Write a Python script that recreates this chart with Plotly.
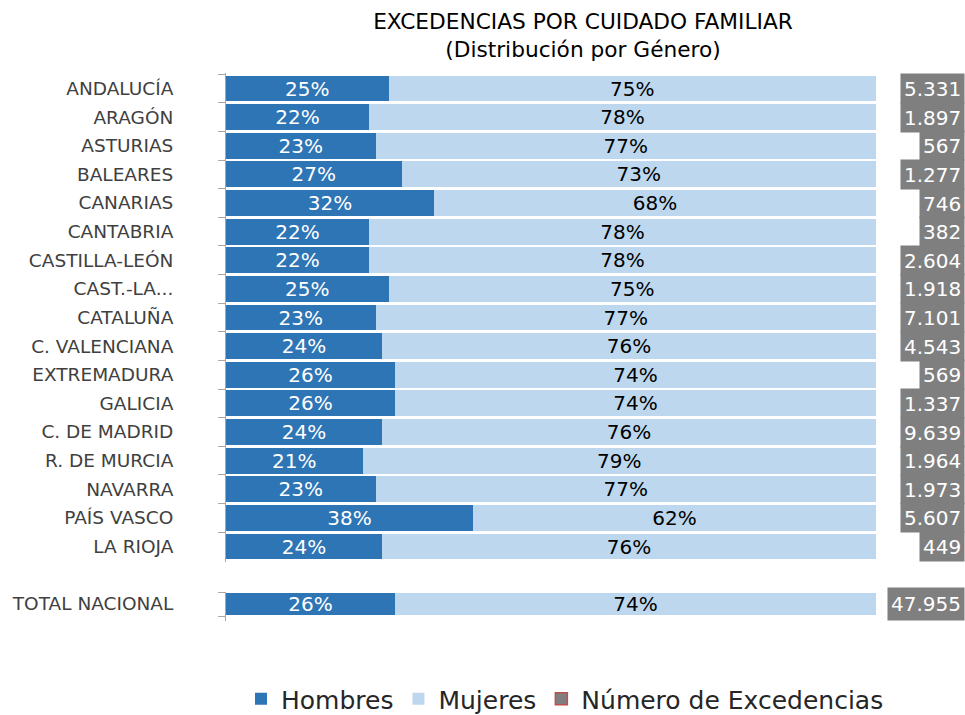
import plotly.graph_objects as go

regions = ["ANDALUCÍA", "ARAGÓN", "ASTURIAS", "BALEARES", "CANARIAS", "CANTABRIA",
           "CASTILLA-LEÓN", "CAST.-LA...", "CATALUÑA", "C. VALENCIANA", "EXTREMADURA",
           "GALICIA", "C. DE MADRID", "R. DE MURCIA", "NAVARRA", "PAÍS VASCO", "LA RIOJA"]
hombres = [25, 22, 23, 27, 32, 22, 22, 25, 23, 24, 26, 26, 24, 21, 23, 38, 24]
mujeres = [75, 78, 77, 73, 68, 78, 78, 75, 77, 76, 74, 74, 76, 79, 77, 62, 76]
excedencias = [5331, 1897, 567, 1277, 746, 382, 2604, 1918, 7101, 4543, 569, 1337,
               9639, 1964, 1973, 5607, 449]

total_label = ["TOTAL NACIONAL"]
total_hombres = [26]
total_mujeres = [74]
total_excedencias = [47955]

C_H = "#2E75B6"
C_M = "#BDD7EE"
C_N = "#7F7F7F"
FONT = "DejaVu Sans"

W, H = 965, 715
L, R = 226, 89
T, B = 73, 715 - 621
PW, PH = W - L - R, H - T - B


def fmt(v):
    return f"{v:,}".replace(",", ".")


fig = go.Figure()

bar_text = dict(textposition="inside", insidetextanchor="middle", textangle=0,
                constraintext="none", hoverinfo="skip", orientation="h")

fig.add_trace(go.Bar(
    y=regions, x=hombres, name="Hombres", marker=dict(color=C_H, line=dict(width=0)),
    text=[f"{v}%" for v in hombres], textfont=dict(family=FONT, size=20, color="white"),
    xaxis="x", yaxis="y", legendgroup="h", **bar_text))
fig.add_trace(go.Bar(
    y=regions, x=mujeres, name="Mujeres", marker=dict(color=C_M, line=dict(width=0)),
    text=[f"{v}%" for v in mujeres], textfont=dict(family=FONT, size=20, color="black"),
    xaxis="x", yaxis="y", legendgroup="m", **bar_text))
fig.add_trace(go.Bar(
    y=total_label, x=total_hombres, name="Hombres", marker=dict(color=C_H, line=dict(width=0)),
    text=[f"{v}%" for v in total_hombres], textfont=dict(family=FONT, size=20, color="white"),
    xaxis="x2", yaxis="y2", legendgroup="h", showlegend=False, **bar_text))
fig.add_trace(go.Bar(
    y=total_label, x=total_mujeres, name="Mujeres", marker=dict(color=C_M, line=dict(width=0)),
    text=[f"{v}%" for v in total_mujeres], textfont=dict(family=FONT, size=20, color="black"),
    xaxis="x2", yaxis="y2", legendgroup="m", showlegend=False, **bar_text))
# legend entry for the number boxes
fig.add_trace(go.Bar(
    y=[None], x=[None], orientation="h", name="Número de Excedencias",
    marker=dict(color=C_N, line=dict(color="#C0504D", width=1.5)),
    xaxis="x", yaxis="y", hoverinfo="skip"))

X_RIGHT = (W - L) / PW
annotations = []
for r, v in zip(regions, excedencias):
    annotations.append(dict(
        x=X_RIGHT, xref="paper", y=r, yref="y", xanchor="right", yanchor="middle",
        text=fmt(v), showarrow=False, bgcolor=C_N, borderpad=3, height=23,
        font=dict(family=FONT, size=20, color="white")))
for r, v in zip(total_label, total_excedencias):
    annotations.append(dict(
        x=X_RIGHT, xref="paper", y=r, yref="y2", xanchor="right", yanchor="middle",
        text=fmt(v), showarrow=False, bgcolor=C_N, borderpad=3, height=26,
        font=dict(family=FONT, size=20, color="white")))

yaxis_common = dict(
    type="category", autorange="reversed", showline=True, linecolor="#A6A6A6", linewidth=1,
    ticks="outside", ticklen=7, tickcolor="#A6A6A6", tickson="boundaries",
    tickfont=dict(family=FONT, size=18.5, color="#404040"), ticklabelstandoff=48,
    showgrid=False, zeroline=False, fixedrange=True, automargin=False)

fig.update_layout(
    width=W, height=H, autosize=False,
    margin=dict(l=L, r=R, t=T, b=B),
    paper_bgcolor="white", plot_bgcolor="white",
    barmode="stack", bargap=0.1,
    title=dict(text="EXCEDENCIAS POR CUIDADO FAMILIAR<br>(Distribución por Género)",
               x=583 / W, xref="container", xanchor="center",
               y=1 - 29 / H, yref="container", yanchor="top",
               font=dict(family=FONT, size=21.7, color="black")),
    xaxis=dict(domain=[0, 1], range=[0, 100], visible=False, anchor="y", fixedrange=True,
               automargin=False),
    xaxis2=dict(domain=[0, 1], range=[0, 100], visible=False, anchor="y2", matches="x",
                fixedrange=True, automargin=False),
    yaxis=dict(domain=[(621 - 562) / PH, 1], anchor="x", **yaxis_common),
    yaxis2=dict(domain=[0, (621 - 592) / PH], anchor="x2", **yaxis_common),
    legend=dict(orientation="h", xref="container", yref="container",
                x=565 / W, xanchor="center", y=(715 - 699) / H,
                yanchor="middle", font=dict(family=FONT, size=25, color="#262626"),
                traceorder="normal", bgcolor="rgba(0,0,0,0)"),
    annotations=annotations,
    showlegend=True,
)

fig.write_html(
    "out.html",
    config={"displayModeBar": False},
    post_script="document.body.style.margin='0';document.documentElement.style.overflow='hidden';",
)
